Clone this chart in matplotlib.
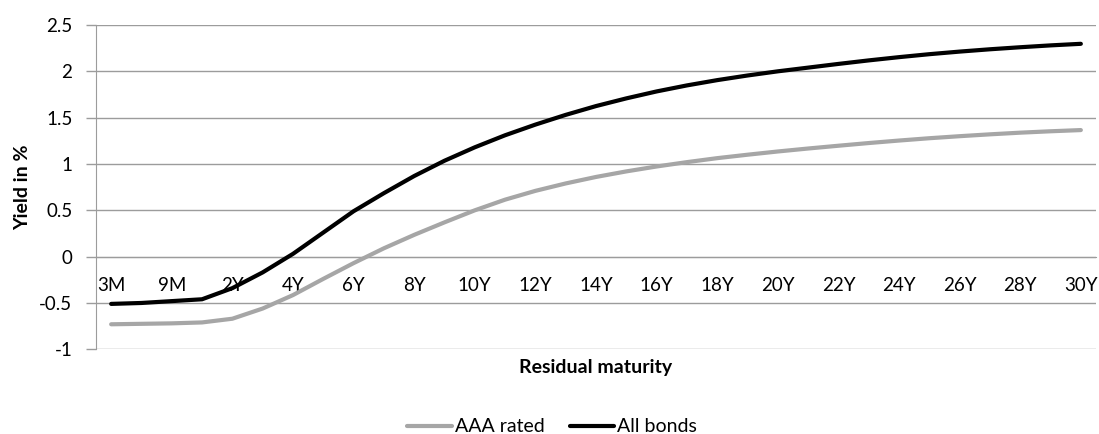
import matplotlib
matplotlib.use("Agg")
import matplotlib.pyplot as plt

# Residual maturity buckets
maturities = ['3M', '6M', '9M', '1Y', '2Y', '3Y', '4Y', '5Y', '6Y', '7Y', '8Y',
              '9Y', '10Y', '11Y', '12Y', '13Y', '14Y', '15Y', '16Y', '17Y', '18Y',
              '19Y', '20Y', '21Y', '22Y', '23Y', '24Y', '25Y', '26Y', '27Y', '28Y',
              '29Y', '30Y']

# Yields in %
aaa_rated = [-0.73, -0.725, -0.72, -0.71, -0.67, -0.56, -0.415, -0.24, -0.07, 0.09,
             0.235, 0.37, 0.50, 0.615, 0.71, 0.79, 0.86, 0.92, 0.973, 1.02, 1.063,
             1.10, 1.135, 1.167, 1.197, 1.226, 1.253, 1.278, 1.30, 1.32, 1.338,
             1.353, 1.366]
all_bonds = [-0.51, -0.50, -0.48, -0.46, -0.34, -0.17, 0.03, 0.26, 0.49, 0.685,
             0.87, 1.035, 1.18, 1.31, 1.425, 1.53, 1.625, 1.708, 1.783, 1.848,
             1.905, 1.955, 2.00, 2.04, 2.08, 2.118, 2.153, 2.185, 2.213, 2.238,
             2.26, 2.28, 2.297]

y_ticks = [-1, -0.5, 0, 0.5, 1, 1.5, 2, 2.5]

plt.rcParams['font.family'] = ['Lato', 'DejaVu Sans']

W, H = 1099, 434
fig = plt.figure(figsize=(W / 100, H / 100), dpi=100)
ax = fig.add_axes([96 / W, 1 - 349.3 / H, 1000 / W, (349.3 - 25) / H])

grid_c = '#9c9c9c'
x = list(range(len(maturities)))

ax.plot(x, aaa_rated, color='#a6a6a6', lw=3.0, solid_capstyle='round',
        solid_joinstyle='round', label='AAA rated', zorder=3)
ax.plot(x, all_bonds, color='#000000', lw=3.0, solid_capstyle='round',
        solid_joinstyle='round', label='All bonds', zorder=4)

ax.set_xlim(-0.5, len(maturities) - 0.5)
ax.set_ylim(-1, 2.5)
ax.set_yticks(y_ticks)
ax.set_yticklabels([f'{v:g}' for v in y_ticks])
ax.yaxis.grid(True, color=grid_c, lw=1)
ax.set_axisbelow(True)

# category axis crosses at zero
ax.spines['bottom'].set_position(('data', 0))
ax.spines['bottom'].set_color(grid_c)
ax.spines['left'].set_color(grid_c)
ax.spines['top'].set_visible(False)
ax.spines['right'].set_visible(False)

ax.set_xticks(x[::2])
ax.set_xticklabels(maturities[::2])
ax.tick_params(axis='x', length=0, pad=15, labelsize=13.5, colors='#000000')
ax.tick_params(axis='y', length=7, width=1, color=grid_c, pad=10, labelsize=13.5)

ax.set_xlabel('Residual maturity', fontsize=14, fontweight='bold')
ax.xaxis.label.set_va('center')
ax.xaxis.set_label_coords((596 - 96) / 1000, (349.3 - 368) / (349.3 - 25))
ax.set_ylabel('Yield in %', fontsize=14, fontweight='bold')
ax.yaxis.label.set_va('center')
ax.yaxis.set_label_coords((22.7 - 96) / 1000, 0.5)

fig.legend(loc='center', bbox_to_anchor=(552 / W, 1 - 427 / H), ncol=2,
           frameon=False, fontsize=14, handlelength=2.3, handletextpad=0.15,
           columnspacing=1.3, borderpad=0)

fig.savefig('out.png', dpi=100, facecolor='white')
